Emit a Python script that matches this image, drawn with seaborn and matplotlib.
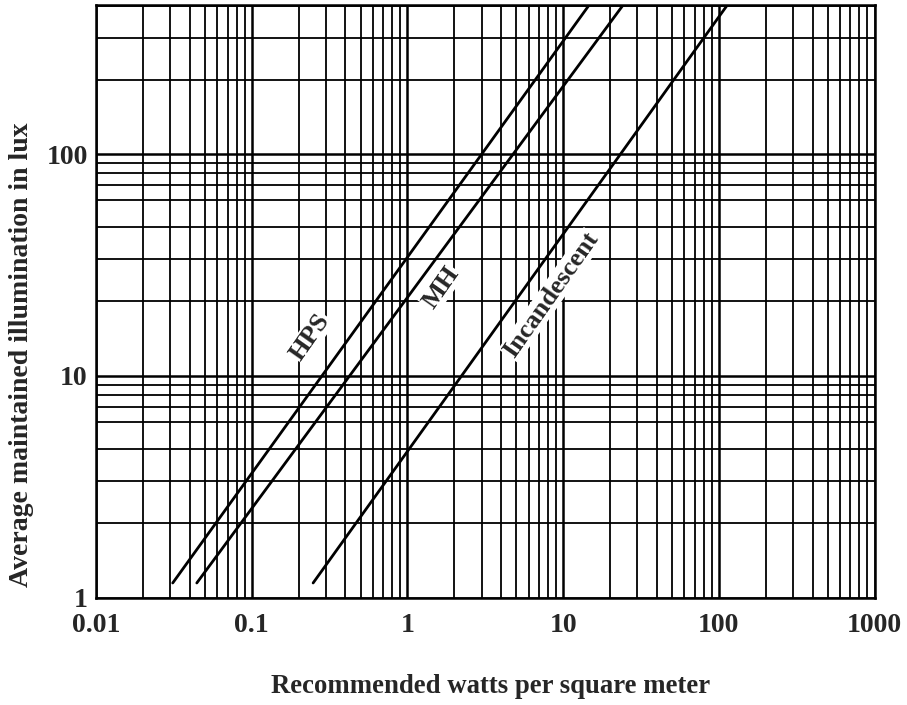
import numpy as np
import pandas as pd
import matplotlib
matplotlib.use("Agg")
import matplotlib.pyplot as plt
from matplotlib.ticker import FixedLocator, LogLocator, NullFormatter, FixedFormatter
import seaborn as sns

# ---- data ----
lamps = ["HPS", "MH", "Incandescent"]
watts_start = [0.0311, 0.0444, 0.248]     # W/m^2 at lower end
watts_end = [14.7, 24.3, 113.5]           # W/m^2 at upper end
lux_start = [1.163, 1.163, 1.163]
lux_end = [473, 473, 473]

x_ticks = [0.01, 0.1, 1, 10, 100, 1000]
x_tick_labels = ["0.01", "0.1", "1", "10", "100", "1000"]
y_ticks = [1, 10, 100]
y_tick_labels = ["1", "10", "100"]
# graph-paper horizontal rulings within each decade (as printed)
y_rule_factors = [2.17, 3.37, 4.7, 6.2, 7.28, 8.22, 9.12]

label_pos = {"HPS": (0.237, 15.0), "MH": (1.64, 25.0), "Incandescent": (8.36, 23.2)}

rows = []
for name, x0, x1, y0, y1 in zip(lamps, watts_start, watts_end, lux_start, lux_end):
    rows.append({"lamp": name, "watts": x0, "lux": y0})
    rows.append({"lamp": name, "watts": x1, "lux": y1})
df = pd.DataFrame(rows)

sns.set_style("white")
plt.rcParams["font.family"] = ["Liberation Serif", "DejaVu Serif"]

fig = plt.figure(figsize=(9.07, 7.05), dpi=100)
ax = fig.add_axes([96 / 907, 1 - 597.5 / 705, (874.5 - 96) / 907, (597.5 - 5) / 705])

sns.lineplot(data=df, x="watts", y="lux", hue="lamp", palette=["black"] * 3,
             legend=False, linewidth=2.0, ax=ax, zorder=5)

ax.set_xscale("log")
ax.set_yscale("log")
ax.set_xlim(0.01, 1000)
ax.set_ylim(1, 473)

ax.xaxis.set_major_locator(FixedLocator(x_ticks))
ax.xaxis.set_major_formatter(FixedFormatter(x_tick_labels))
ax.xaxis.set_minor_locator(LogLocator(base=10, subs=np.arange(2, 10)))
ax.xaxis.set_minor_formatter(NullFormatter())

ax.yaxis.set_major_locator(FixedLocator(y_ticks))
ax.yaxis.set_major_formatter(FixedFormatter(y_tick_labels))
minor_y = [f * d for d in [1, 10, 100] for f in y_rule_factors if f * d < 473]
ax.yaxis.set_minor_locator(FixedLocator(minor_y))
ax.yaxis.set_minor_formatter(NullFormatter())

ax.grid(which="major", color="black", linewidth=1.8)
ax.grid(which="minor", color="black", linewidth=1.3)
ax.tick_params(which="both", length=0)
ax.tick_params(axis="x", labelsize=20, pad=11)
ax.tick_params(axis="y", labelsize=20, pad=6)
for lab in ax.get_xticklabels() + ax.get_yticklabels():
    lab.set_fontweight("bold")
for s in ax.spines.values():
    s.set_color("black")
    s.set_linewidth(1.8)

ax.set_xlabel("Recommended watts per square meter", fontsize=19.3, fontweight="bold")
ax.xaxis.label.set_verticalalignment("center")
ax.xaxis.set_label_coords(0.507, -0.15)
ax.set_ylabel("Average maintained illumination in lux", fontsize=20, fontweight="bold")
ax.yaxis.set_label_coords(-0.08, 0.41)

ang = np.degrees(np.arctan2((597.5 - 5) / np.log10(473), (874.5 - 96) / 5))
for name in lamps:
    x, y = label_pos[name]
    ax.text(x, y, name, rotation=ang, rotation_mode="anchor", ha="center", va="center",
            fontsize=19, fontweight="bold", zorder=6,
            bbox=dict(facecolor="white", edgecolor="none", pad=0.5))

fig.savefig("out.png", dpi=100)
